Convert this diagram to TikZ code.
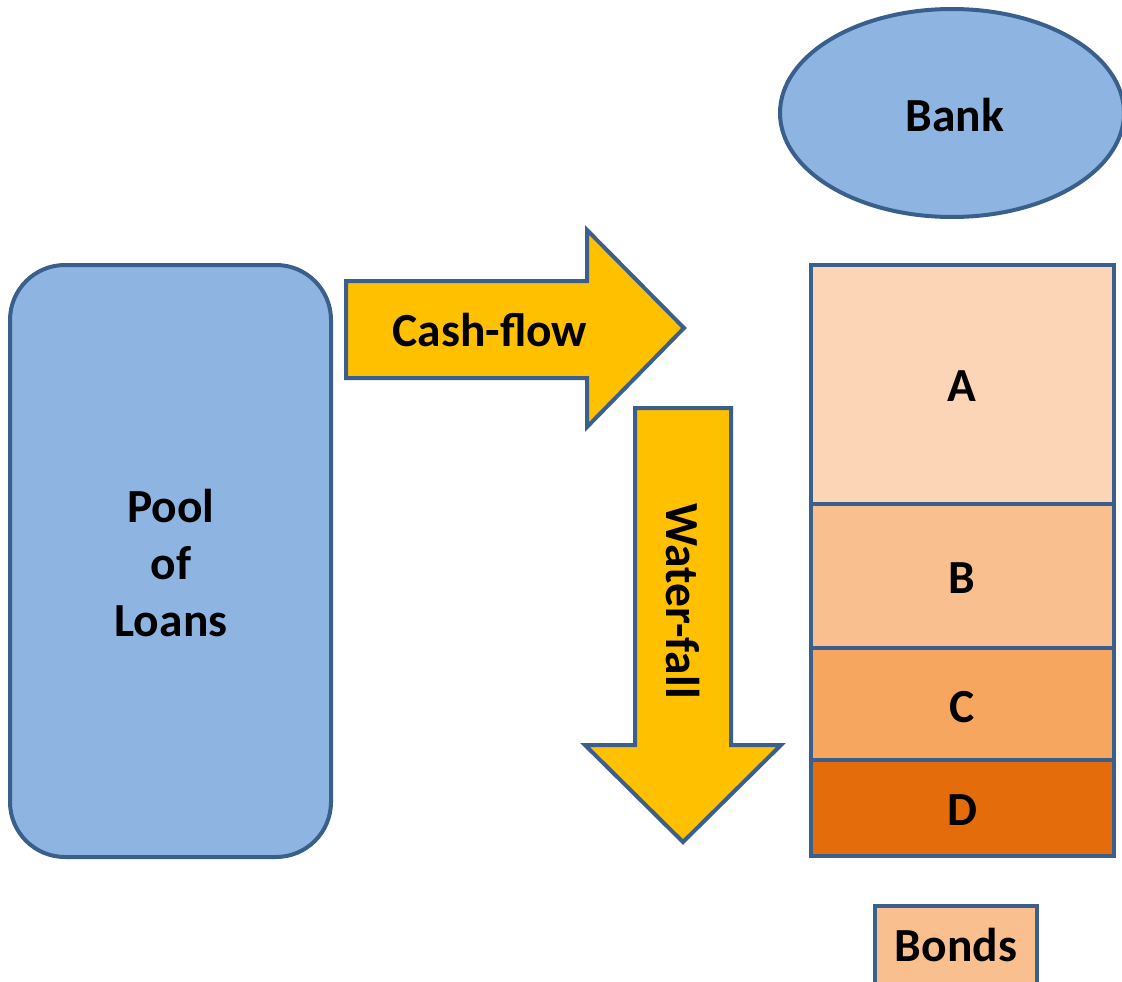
\documentclass[tikz,border=0pt]{standalone}
\usepackage{fontspec}
\setmainfont{Carlito}
\usetikzlibrary{shapes.geometric}
\definecolor{edge}{HTML}{3B5F8C}
\definecolor{poolblue}{HTML}{8EB4E2}
\definecolor{flowgold}{HTML}{FFC000}
\definecolor{trA}{HTML}{FBD5B5}
\definecolor{trB}{HTML}{F9BF8F}
\definecolor{trC}{HTML}{F7A660}
\definecolor{trD}{HTML}{E46C0A}
\tikzset{
  outline/.style={draw=edge, line width=4pt, line join=miter},
  label/.style={font=\fontsize{47.5}{57}\selectfont\bfseries, align=center, text=black},
}
\begin{document}
\begin{tikzpicture}[x=1pt, y=-1pt]
  \useasboundingbox (0,0) rectangle (1122,982);

  % pool of loans
  \draw[outline, fill=poolblue, rounded corners=55pt] (10,265) rectangle (331,857);
  \node[label] (pool) at (171,563) {Pool\\of\\Loans};

  % cash-flow arrow
  \draw[outline, fill=flowgold]
    (346,281) -- (587,281) -- (587,230) -- (684,328) -- (587,427) -- (587,378) -- (346,378) -- cycle;
  \node[label] (cash) at (490,330) {Cash-flow};

  % water-fall arrow
  \draw[outline, fill=flowgold]
    (635,408) -- (731,408) -- (731,745) -- (781,745) -- (683,842) -- (585,745) -- (635,745) -- cycle;
  \node[label, rotate=-90] (fall) at (683,601) {Water-fall};

  % bank
  \node[outline, fill=poolblue, ellipse, minimum width=344pt, minimum height=208pt, inner sep=0pt] (bank) at (952,113) {};
  \node[label] (banktxt) at (955,115) {Bank};

  % tranches
  \draw[outline, fill=trA] (811,265) rectangle (1114,504);
  \draw[outline, fill=trB] (811,504) rectangle (1114,648);
  \draw[outline, fill=trC] (811,648) rectangle (1114,760);
  \draw[outline, fill=trD] (811,760) rectangle (1114,856);
  \node[label] (A) at (962,386) {A};
  \node[label] (B) at (962,578) {B};
  \node[label] (C) at (962,707) {C};
  \node[label] (D) at (962,810) {D};

  % bonds legend
  \draw[outline, fill=trB] (875,906) rectangle (1037,990);
  \node[label] (bonds) at (956,945) {Bonds};
\end{tikzpicture}
\end{document}
